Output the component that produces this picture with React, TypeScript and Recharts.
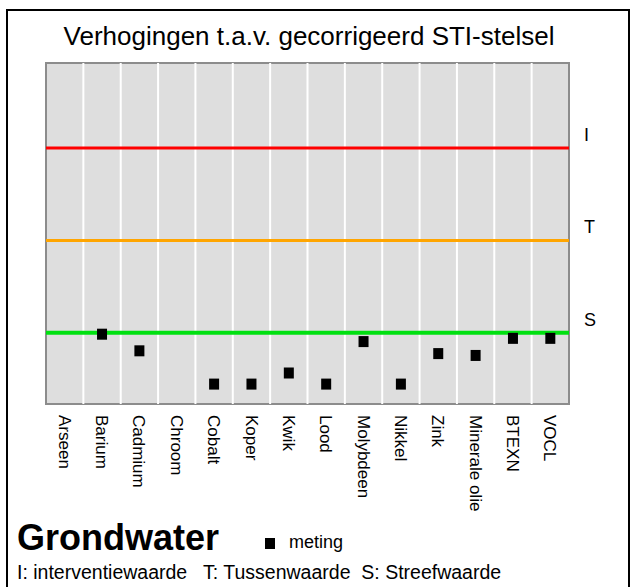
import React from 'react';
import { ScatterChart, Scatter, XAxis, YAxis, ReferenceLine, ReferenceArea } from 'recharts';

const categories = [
  'Arseen', 'Barium', 'Cadmium', 'Chroom', 'Cobalt', 'Koper', 'Kwik',
  'Lood', 'Molybdeen', 'Nikkel', 'Zink', 'Minerale olie', 'BTEXN', 'VOCL',
];

// gemeten verhoging, relatief t.o.v. S = 1, T = 2, I = 3
const meting = [null, 0.98, 0.8, null, 0.44, 0.44, 0.56, 0.44, 0.9, 0.44, 0.77, 0.75, 0.935, 0.935];

const levelNames = ['I', 'T', 'S'];
const levelValues = [3, 2, 1];
const levelColors = ['#ff0000', '#ffa500', '#00e010'];

const Y_MIN = 0.23;
const Y_MAX = 3.92;

const FONT = "'Liberation Sans', Arial, sans-serif";

const data = categories
  .map((name, i) => ({ x: i + 0.5, y: meting[i], name }))
  .filter((d) => d.y !== null);

const catTicks = categories.map((_, i) => i + 0.5);
const gridTicks = categories.map((_, i) => i).slice(1);

const CatTick = (props: any) => {
  const { x, y, payload } = props;
  const label = categories[Math.floor(payload.value)];
  return (
    <text
      transform={`translate(${x},${y + 11}) rotate(90)`}
      textAnchor="start"
      dy="0.35em"
      fontSize={17}
      fontFamily={FONT}
      fill="#000"
    >
      {label}
    </text>
  );
};

const RightLabel = (props: any) => {
  const { viewBox, text } = props;
  if (!viewBox) return null;
  return (
    <text x={viewBox.x + viewBox.width + 15} y={viewBox.y - 7} fontSize={18} fontFamily={FONT} fill="#000">
      {text}
    </text>
  );
};

const Square = (props: any) => {
  const { cx, cy } = props;
  return <rect x={cx - 5} y={cy - 6} width={10} height={11} fill="#000" />;
};

export default function App() {
  return (
    <div style={{ position: 'absolute', left: 0, top: 0, width: 636, height: 587, background: '#fff', fontFamily: FONT, overflow: 'hidden' }}>
      <div
        style={{
          position: 'absolute', left: 6, top: 9, width: 620, height: 590,
          border: '2px solid #000',
        }}
      />
      <div style={{ position: 'absolute', left: 0, top: 21, width: 618, textAlign: 'center', fontSize: 26, color: '#000' }}>
        Verhogingen t.a.v. gecorrigeerd STI-stelsel
      </div>
      <div style={{ position: 'absolute', left: 0, top: 0 }}>
        <ScatterChart width={636} height={587} margin={{ top: 63, left: 46, right: 67, bottom: 63 }}>
          <XAxis
            xAxisId="cat"
            type="number"
            dataKey="x"
            domain={[0, categories.length]}
            ticks={catTicks}
            interval={0}
            axisLine={false}
            tickLine={false}
            tickSize={0}
            tickMargin={0}
            height={120}
            tick={<CatTick />}
          />
          <YAxis type="number" dataKey="y" domain={[Y_MIN, Y_MAX]} hide width={0} />
          <ReferenceArea
            xAxisId="cat"
            x1={0}
            x2={categories.length}
            y1={Y_MIN}
            y2={Y_MAX}
            fill="#dedede"
            fillOpacity={1}
            stroke="none"
          />
          {gridTicks.map((t) => (
            <ReferenceLine key={`g${t}`} xAxisId="cat" x={t} stroke="#ffffff" strokeWidth={2} />
          ))}
          <ReferenceArea
            xAxisId="cat"
            x1={0}
            x2={categories.length}
            y1={Y_MIN}
            y2={Y_MAX}
            fill="none"
            stroke="#8c8c8c"
            strokeWidth={2}
          />
          {levelNames.map((name, i) => (
            <ReferenceLine
              key={name}
              xAxisId="cat"
              y={levelValues[i]}
              stroke={levelColors[i]}
              strokeWidth={i === 2 ? 4 : 3}
              label={<RightLabel text={name} />}
            />
          ))}
          <Scatter xAxisId="cat" data={data} dataKey="y" shape={<Square />} isAnimationActive={false} />
        </ScatterChart>
      </div>
      <div style={{ position: 'absolute', left: 17, top: 518, fontSize: 36, fontWeight: 'bold', color: '#000', lineHeight: '40px' }}>
        Grondwater
      </div>
      <div style={{ position: 'absolute', left: 265, top: 538, width: 10, height: 11, background: '#000' }} />
      <div style={{ position: 'absolute', left: 289, top: 532, fontSize: 18, color: '#000', lineHeight: '20px' }}>meting</div>
      <div style={{ position: 'absolute', left: 17, top: 562, fontSize: 19.5, color: '#000', whiteSpace: 'pre', lineHeight: '20px' }}>
        {'I: interventiewaarde   T: Tussenwaarde  S: Streefwaarde'}
      </div>
    </div>
  );
}
